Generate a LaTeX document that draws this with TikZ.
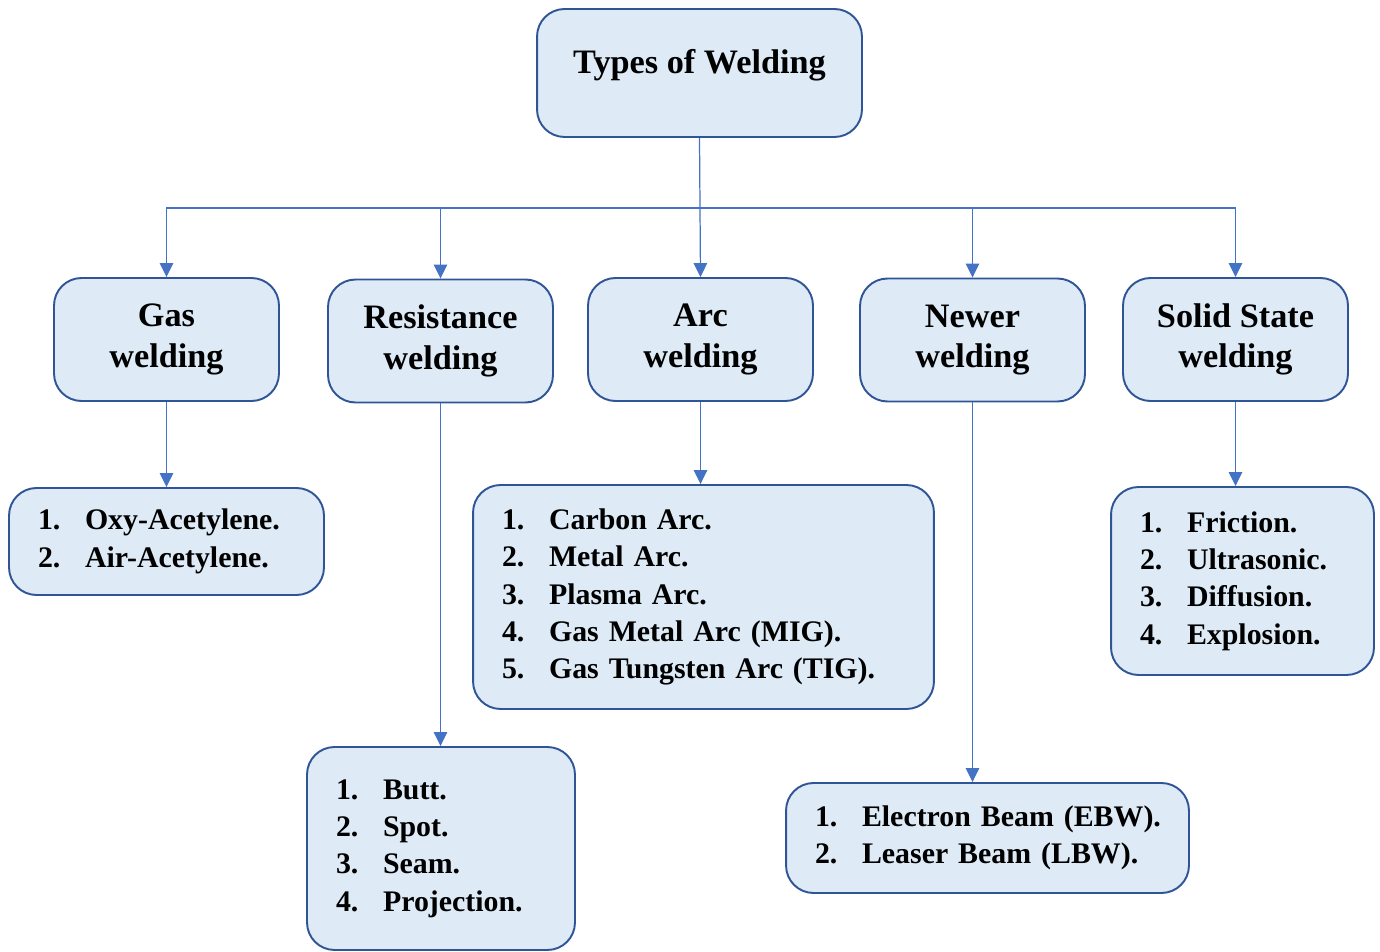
\documentclass[tikz,border=0pt]{standalone}
\usepackage{fontspec}
\setmainfont{Liberation Serif}
\usetikzlibrary{arrows.meta}
\definecolor{boxfill}{HTML}{DEEBF7}
\definecolor{boxline}{HTML}{2F5597}
\definecolor{wire}{HTML}{4472C4}
\newcommand{\witem}[2]{\mbox{\makebox[0.94cm][l]{#1}#2}}

\begin{document}
\begin{tikzpicture}[x=0.02cm, y=-0.02cm,
	wbox/.style={draw=boxline, fill=boxfill, line width=1.1pt, rounded corners=0.55cm,
		align=center, font=\fontsize{19.5}{23}\selectfont\bfseries},
	wlist/.style={wbox, align=left, inner xsep=0.58cm, text width=#1,
		font=\fontsize{17}{21.3}\selectfont\bfseries},
	conn/.style={draw=wire, line width=0.7pt, -{Triangle[length=0.28cm,width=0.27cm]}}]
	\useasboundingbox (0,0) rectangle (1380,952);
	% Boxes:
	\node[wbox, minimum width=6.5cm, inner ysep=0pt, text height=1.3cm, text depth=1.26cm] (title) at (699.5, 73){Types of Welding};
	\node[wbox, minimum width=4.5cm, minimum height=2.46cm] (gas) at (166.5, 339.5){Gas\\welding};
	\node[wbox, minimum width=4.5cm, minimum height=2.46cm] (res) at (440.5, 341){Resistance\\welding};
	\node[wbox, minimum width=4.5cm, minimum height=2.46cm] (arc) at (700.5, 339.5){Arc\\welding};
	\node[wbox, minimum width=4.5cm, minimum height=2.46cm] (newer) at (972.5, 340){Newer\\welding};
	\node[wbox, minimum width=4.5cm, minimum height=2.46cm] (solid) at (1235.5, 339.5){Solid State\\welding};
	% Lists:
	\node[wlist=5.14cm, minimum height=2.14cm] (gaslist) at (166.5, 541.5){\witem{1.}{Oxy-Acetylene.}\\\witem{2.}{Air-Acetylene.}};
	\node[wlist=4.2cm, minimum height=4.06cm] (reslist) at (441, 848.5){\witem{1.}{Butt.}\\\witem{2.}{Spot.}\\\witem{3.}{Seam.}\\\witem{4.}{Projection.}};
	\node[wlist=8.06cm, minimum height=4.48cm] (arclist) at (703.5, 597){\witem{1.}{Carbon Arc.}\\\witem{2.}{Metal Arc.}\\\witem{3.}{Plasma Arc.}\\\witem{4.}{Gas Metal Arc (MIG).}\\\witem{5.}{Gas Tungsten Arc (TIG).}};
	\node[wlist=6.9cm, minimum height=2.2cm] (newlist) at (987.5, 838){\witem{1.}{Electron Beam (EBW).}\\\witem{2.}{Leaser Beam (LBW).}};
	\node[wlist=4.1cm, minimum height=3.76cm] (sollist) at (1242.5, 581){\witem{1.}{Friction.}\\\witem{2.}{Ultrasonic.}\\\witem{3.}{Diffusion.}\\\witem{4.}{Explosion.}};
	% Connectors:
	\coordinate (bus) at (700, 208);
	\draw[conn] (title.south) -- (arc.north);
	\foreach \n in {gas, res, newer, solid}
		\draw[conn] (bus) -| (\n.north);
	\draw[conn] (gas.south) -- (gas.south |- gaslist.north);
	\draw[conn] (res.south) -- (res.south |- reslist.north);
	\draw[conn] (arc.south) -- (arc.south |- arclist.north);
	\draw[conn] (newer.south) -- (newer.south |- newlist.north);
	\draw[conn] (solid.south) -- (solid.south |- sollist.north);
\end{tikzpicture}
\end{document}
